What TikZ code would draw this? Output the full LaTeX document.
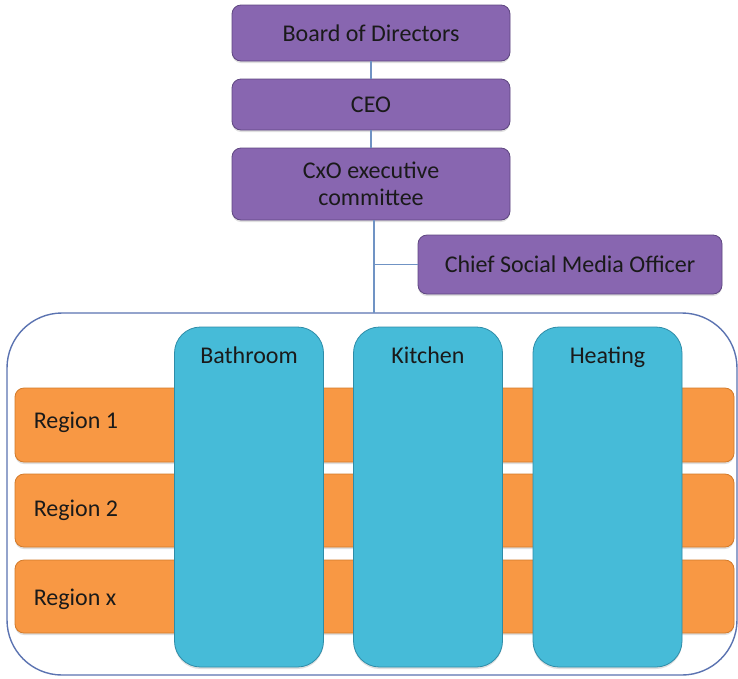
\documentclass[tikz,border=0pt]{standalone}
\usepackage{fontspec}
\setmainfont{Carlito}
\usetikzlibrary{calc,shadows}
\definecolor{purp}{HTML}{8866B0}
\definecolor{purpB}{HTML}{5E4680}
\definecolor{aqua}{HTML}{46BBD8}
\definecolor{aquaB}{HTML}{2E8CA8}
\definecolor{orng}{HTML}{F89844}
\definecolor{orngB}{HTML}{D27A2A}
\definecolor{lineC}{HTML}{7093C4}
\definecolor{frameC}{HTML}{5B73B1}
\definecolor{txt}{HTML}{1A1A1A}
\tikzset{
  base/.style={font=\fontsize{24}{27}\selectfont, text=txt},
  purplebox/.style={base, draw=purpB, line width=0.8pt, fill=purp, rounded corners=9pt,
    minimum width=278pt, align=center, inner sep=0pt,
    drop shadow={shadow xshift=0pt, shadow yshift=-2pt, opacity=0.25}},
  regionbox/.style={draw=orngB, line width=0.8pt, fill=orng, rounded corners=9pt,
    minimum width=719pt, inner sep=0pt,
    drop shadow={shadow xshift=0pt, shadow yshift=-2pt, opacity=0.25}},
  colbox/.style={draw=aquaB, line width=0.8pt, fill=aqua, rounded corners=26pt,
    minimum width=149pt, minimum height=340pt, inner sep=0pt,
    drop shadow={shadow xshift=0pt, shadow yshift=-2pt, opacity=0.25}},
  collabel/.style={base, anchor=base, inner sep=0pt},
  reglabel/.style={base, anchor=base west, inner sep=0pt},
  connector/.style={draw=lineC, line width=1.6pt},
  frame/.style={draw=frameC, line width=1.4pt, fill=white, rounded corners=55pt,
    minimum width=730pt, minimum height=362pt, inner sep=0pt}
}
\begin{document}
\begin{tikzpicture}[x=1pt,y=-1pt]
\useasboundingbox (0,0) rectangle (738,678);
% container
\node[frame] (box) at (372,494) {};
% org chart boxes
\node[purplebox, minimum height=56pt] (board) at (371,33) {Board of Directors};
\node[purplebox, minimum height=51pt] (ceo) at (371,104.5) {CEO};
\node[purplebox, minimum height=72pt] (cxo) at (371,184) {CxO executive\\committee};
\node[purplebox, minimum width=304pt, minimum height=59pt] (chief) at (570,264.5) {Chief Social Media Officer};
\coordinate (spine) at (374,313);
% connectors
\draw[connector] (board.south) -- (ceo.north);
\draw[connector] (ceo.south) -- (cxo.north);
\draw[connector] (cxo.south -| spine) -- (spine);
\draw[connector] (chief.west) -- (chief.west -| spine);
% regions
\node[regionbox, minimum height=74pt] (r1) at (374.5,425) {};
\node[regionbox, minimum height=73pt] (r2) at (374.5,510.5) {};
\node[regionbox, minimum height=73pt] (rx) at (374.5,596.5) {};
\node[reglabel] (r1l) at ($(r1.west)+(19,3)$) {Region 1};
\node[reglabel] (r2l) at ($(r2.west)+(19,5.5)$) {Region 2};
\node[reglabel] (rxl) at ($(rx.west)+(19,8.5)$) {Region x};
% columns
\node[colbox] (bath) at (249,497) {};
\node[colbox] (kitch) at (428,497) {};
\node[colbox] (heat) at (607.5,497) {};
\node[collabel] (bathl) at ($(bath.north)+(0,37)$) {Bathroom};
\node[collabel] (kitchl) at ($(kitch.north)+(0,37)$) {Kitchen};
\node[collabel] (heatl) at ($(heat.north)+(0,37)$) {Heating};
\end{tikzpicture}
\end{document}
